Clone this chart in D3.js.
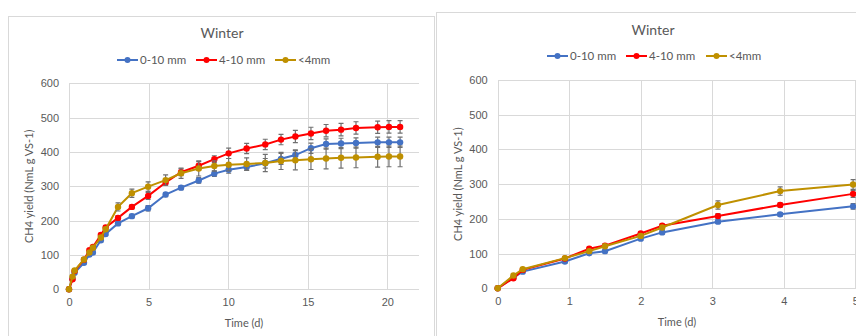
<!DOCTYPE html>
<html>
<head>
<meta charset="utf-8">
<script src="https://d3js.org/d3.v7.min.js"></script>
<style>
body { margin: 0; background: #fff; }
svg { display: block; font-family: Lato, "Open Sans", sans-serif; }
.grid line { stroke: #d9d9d9; stroke-width: 1; shape-rendering: crispEdges; }
.tick text { fill: #595959; font-size: 11px; }
</style>
</head>
<body>
<svg width="856" height="336"></svg>
<script>

// time in days
var days = [0, 0.22, 0.35, 0.94, 1.28, 1.5, 2.0, 2.3, 3.08, 3.95, 4.97, 6.07, 7.04, 8.15, 9.13, 10.03,
            11.16, 12.33, 13.32, 14.22, 15.2, 16.15, 17.09, 18.03, 19.39, 20.1, 20.8];

// CH4 yield (NmL g VS-1)
var fine010 = [0, 31, 48, 77, 101, 107, 143, 161, 192, 213, 236, 276, 296, 317, 337, 348,
               356, 367, 380, 391, 411, 423, 425, 426, 428, 428, 428];
var med410  = [0, 29, 53, 86, 114, 123, 158, 180, 208, 240, 272, 311, 341, 360, 379, 396,
               410, 422, 436, 445, 454, 462, 465, 470, 472, 473, 473];
var small4  = [0, 37, 55, 87, 107, 121, 151, 175, 240, 280, 299, 318, 338, 352, 359, 363,
               365, 368, 374, 376, 379, 381, 383, 384, 386, 387, 387];

// error bar half-lengths
var err010 = [0, 2, 3, 4, 4, 4, 5, 5, 5, 5, 8, 6, 6, 8, 8, 10, 10, 14, 16, 15, 15, 15, 15, 15, 15, 15, 15];
var err410 = [0, 3, 3, 4, 4, 4, 5, 5, 7, 6, 10, 8, 10, 12, 10, 15, 15, 15, 15, 18, 18, 18, 18, 18, 18, 18, 18];
var err4   = [0, 3, 3, 4, 4, 4, 5, 5, 12, 12, 14, 15, 15, 22, 15, 18, 18, 25, 25, 28, 30, 30, 30, 30, 30, 30, 30];

var seriesNames = ["0-10 mm", "4-10 mm", "<4mm"];
var seriesColors = ["#4472c4", "#ff0000", "#bf9000"];
var seriesValues = [fine010, med410, small4];
var seriesErrors = [err010, err410, err4];
var yTicks = [0, 100, 200, 300, 400, 500, 600];

var svg = d3.select("svg");

function panel(opt) {
  var g = svg.append("g");

  // chart border
  g.append("rect")
      .attr("x", opt.box[0] + 0.5).attr("y", opt.box[1] + 0.5)
      .attr("width", opt.box[2]).attr("height", opt.box[3])
      .attr("fill", "#fff").attr("stroke", "#d9d9d9");

  var x = d3.scaleLinear().domain([0, opt.xmax]).range([opt.left, opt.right]);
  var y = d3.scaleLinear().domain([0, 600]).range([opt.bottom, opt.top]);

  var clipId = "clip" + opt.id;
  g.append("clipPath").attr("id", clipId)
    .append("rect")
      .attr("x", opt.left - 6).attr("y", opt.top - 6)
      .attr("width", opt.right - opt.left + 12).attr("height", opt.bottom - opt.top + 12);

  // gridlines
  g.append("g")
      .attr("class", "grid")
      .attr("transform", "translate(0," + opt.bottom + ")")
      .call(d3.axisBottom(x).tickValues(opt.xTicks).tickSize(-(opt.bottom - opt.top)).tickFormat(""))
      .call(function(s) { s.select(".domain").remove(); });
  g.append("g")
      .attr("class", "grid")
      .attr("transform", "translate(" + opt.left + ",0)")
      .call(d3.axisLeft(y).tickValues(yTicks).tickSize(-(opt.right - opt.left)).tickFormat(""))
      .call(function(s) { s.select(".domain").remove(); });

  // tick labels
  g.append("g")
      .attr("transform", "translate(0," + opt.bottom + ")")
      .call(d3.axisBottom(x).tickValues(opt.xTicks).tickSize(0).tickPadding(9).tickFormat(d3.format("d")))
      .call(function(s) { s.select(".domain").remove(); });
  g.append("g")
      .attr("transform", "translate(" + opt.left + ",0)")
      .call(d3.axisLeft(y).tickValues(yTicks).tickSize(0).tickPadding(10))
      .call(function(s) { s.select(".domain").remove(); });

  // title, axis labels
  g.append("text")
      .attr("x", opt.titleX).attr("y", opt.titleY)
      .attr("text-anchor", "middle").attr("font-size", 14).attr("fill", "#595959")
      .text("Winter");
  g.append("text")
      .attr("transform", "translate(" + opt.yLabelX + "," + ((opt.top + opt.bottom) / 2) + ") rotate(-90)")
      .attr("text-anchor", "middle").attr("font-size", 11).attr("fill", "#595959")
      .text("CH4 yield (NmL g VS-1)");
  g.append("text")
      .attr("x", opt.xLabelX).attr("y", opt.xLabelY)
      .attr("text-anchor", "middle").attr("font-size", 11).attr("fill", "#595959")
      .text("Time (d)");

  // legend
  var leg = g.selectAll(".leg").data(seriesNames).enter().append("g")
      .attr("transform", function(d, i) { return "translate(" + opt.legendX[i] + "," + opt.legendY + ")"; });
  leg.append("line").attr("x1", 0).attr("x2", 21)
      .attr("stroke", function(d, i) { return seriesColors[i]; }).attr("stroke-width", 2);
  leg.append("circle").attr("cx", 10.5).attr("r", 3)
      .attr("fill", function(d, i) { return seriesColors[i]; });
  leg.append("text").attr("x", 23).attr("dy", "0.35em")
      .attr("font-size", 11.5).attr("fill", "#595959")
      .text(function(d) { return d; });

  var plot = g.append("g").attr("clip-path", "url(#" + clipId + ")");
  var line = d3.line()
      .x(function(d) { return x(days[d]); })
      .y(function(d, i, arr) { return 0; });

  seriesValues.forEach(function(vals, si) {
    var pts = days.map(function(t, i) { return {t: t, v: vals[i], e: seriesErrors[si][i]}; });
    var s = plot.append("g");
    s.append("path")
        .datum(pts)
        .attr("fill", "none")
        .attr("stroke", seriesColors[si])
        .attr("stroke-width", 2)
        .attr("d", d3.line().x(function(d) { return x(d.t); }).y(function(d) { return y(d.v); }));
    var eb = s.selectAll(".eb").data(pts.filter(function(d) { return d.e > 0; })).enter().append("g")
        .attr("stroke", "#6f6f6f").attr("stroke-width", 1.2);
    eb.append("line")
        .attr("x1", function(d) { return x(d.t); }).attr("x2", function(d) { return x(d.t); })
        .attr("y1", function(d) { return y(d.v - d.e); }).attr("y2", function(d) { return y(d.v + d.e); });
    eb.append("line")
        .attr("x1", function(d) { return x(d.t) - 2.5; }).attr("x2", function(d) { return x(d.t) + 2.5; })
        .attr("y1", function(d) { return y(d.v + d.e); }).attr("y2", function(d) { return y(d.v + d.e); });
    eb.append("line")
        .attr("x1", function(d) { return x(d.t) - 2.5; }).attr("x2", function(d) { return x(d.t) + 2.5; })
        .attr("y1", function(d) { return y(d.v - d.e); }).attr("y2", function(d) { return y(d.v - d.e); });
    s.selectAll("circle").data(pts).enter().append("circle")
        .attr("cx", function(d) { return x(d.t); })
        .attr("cy", function(d) { return y(d.v); })
        .attr("r", 3.2)
        .attr("fill", seriesColors[si]);
  });
}

panel({
  id: "a", box: [8, 16, 426, 330],
  left: 69, right: 419.2, top: 83.3, bottom: 289.3, xmax: 22,
  xTicks: [0, 5, 10, 15, 20],
  titleX: 222, titleY: 38, legendY: 60, legendX: [117, 196, 275],
  yLabelX: 33, xLabelX: 244, xLabelY: 327
});

panel({
  id: "b", box: [436, 12, 430, 330],
  left: 497.7, right: 891, top: 80, bottom: 288.3, xmax: 5.5,
  xTicks: [0, 1, 2, 3, 4, 5],
  titleX: 653, titleY: 35, legendY: 56, legendX: [547, 626, 706],
  yLabelX: 462, xLabelX: 677, xLabelY: 326
});

</script>
</body>
</html>
